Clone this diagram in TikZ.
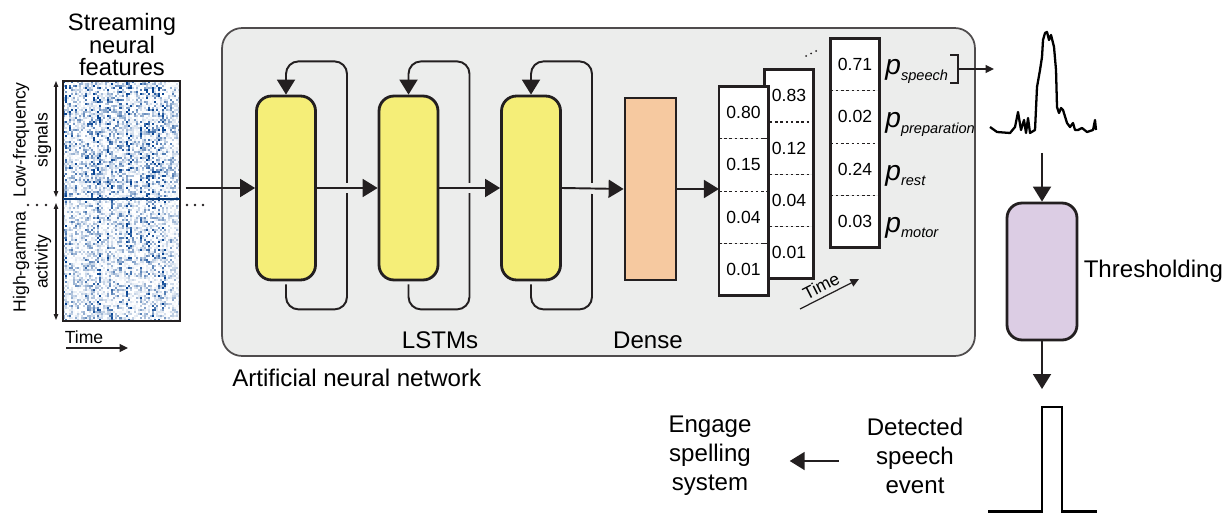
\documentclass[tikz,border=0pt]{standalone}
\usepackage{fontspec}
\setmainfont{Liberation Sans}
\usetikzlibrary{arrows.meta,positioning}

\definecolor{annbg}{HTML}{ECEDEC}
\definecolor{lstmyellow}{HTML}{F5EE78}
\definecolor{densepeach}{HTML}{F6C9A0}
\definecolor{threshpurple}{HTML}{DCCDE4}
\definecolor{heatblue}{HTML}{084594}
\definecolor{ink}{HTML}{231F20}

\newcommand\probl[1]{{\fontsize{16}{16}\selectfont\itshape p\raisebox{-3pt}{\fontsize{8.3}{9}\selectfont #1}}}

\tikzset{
  arr/.style={line width=1.1pt, draw=ink, -{Triangle[length=0.3cm,width=0.36cm]}},
  smallarr/.style={line width=0.8pt, draw=ink, -{Triangle[length=0.17cm,width=0.16cm]}},
  tinyarr/.style={line width=0.6pt, draw=ink, {Triangle[length=0.12cm,width=0.09cm]}-{Triangle[length=0.12cm,width=0.09cm]}},
  gap/.style={preaction={draw=annbg, line width=6pt, -, shorten <=4pt, shorten >=9pt}},
  loopline/.style={line width=1.1pt, draw=ink, rounded corners=0.25cm, -{Triangle[length=0.3cm,width=0.36cm]}},
  annbox/.style={draw=ink!80, line width=1pt, fill=annbg, rounded corners=0.4cm, minimum width=15.06cm, minimum height=6.56cm},
  lstm/.style={draw=ink, line width=1.6pt, fill=lstmyellow, rounded corners=0.3cm, minimum width=1.18cm, minimum height=3.68cm},
  densebox/.style={draw=ink, line width=1.6pt, fill=densepeach, minimum width=1.02cm, minimum height=3.64cm},
  threshbox/.style={draw=ink, line width=1.6pt, fill=threshpurple, rounded corners=0.3cm, minimum width=1.4cm, minimum height=2.74cm},
  cell/.style={fill=white, minimum width=0.97cm, minimum height=1.03cm, inner sep=0pt, font=\fontsize{10}{12}\selectfont},
  colframe/.style={draw=ink, line width=1.6pt},
  sep/.style={draw=ink, line width=0.6pt, dash pattern=on 1.5pt off 1.5pt},
  lbl/.style={font=\fontsize{13.7}{16.5}\selectfont, align=center},
  small/.style={font=\fontsize{10}{12.5}\selectfont, align=center},
  plbl/.style={anchor=base west, inner sep=0pt},
  sigline/.style={line width=1.3pt, draw=black, line join=round},
}

\begin{document}
\begin{tikzpicture}[x=0.02cm,y=-0.02cm]
\useasboundingbox (0,0) rectangle (1222,513);

% streaming features
\node[lbl, font=\fontsize{13.5}{12.8}\selectfont] (title) at (122,45) {Streaming\\neural\\features};
\pgfmathsetseed{11}
\foreach \i in {0,...,57}{
  \pgfmathsetmacro\colf{0.35+1.1*rnd^1.6}
  \foreach \j in {0,...,119}{
    \pgfmathtruncatemacro\v{min(100,120*\colf*(rnd^3)*(\j<59 ? 1.15 : 0.85))}
    \fill[heatblue!\v!white] (63+2.0172*\i,81+2*\j) rectangle ++(2.0172,2);
  }
}
\node[draw=ink, line width=0.8pt, minimum width=2.34cm, minimum height=4.8cm, inner sep=0pt] (heat) at (121.5,201) {};
\draw[heatblue!80!black, line width=0.6pt] (63,199) -- (180,199);
\coordinate (lf1) at (56,81);
\coordinate (lf2) at (56,197);
\coordinate (hg1) at (56,203);
\coordinate (hg2) at (56,320);
\draw[tinyarr] (lf1) -- (lf2);
\draw[tinyarr] (hg1) -- (hg2);
\node[small, rotate=90] (lowf) at (32,140) {Low-frequency\\signals};
\node[small, rotate=90] (higg) at (32,262) {High-gamma\\activity};
\foreach \x in {28,37,46,187,195,203}
  \fill[ink] (\x,205) circle [radius=1.3];
\node[small] (htime) at (84,337) {Time};
\coordinate (ht1) at (66,348);
\coordinate (ht2) at (128,348);
\draw[smallarr, line width=0.7pt] (ht1) -- (ht2);

% network
\node[annbox] (ann) at (598.5,192) {};
\node[lbl, anchor=west, inner sep=0pt] (annlbl) at (232,378) {Artificial neural network};
\node[lstm] (l1) at (286,188) {};
\node[lstm] (l2) at (408.5,188) {};
\node[lstm] (l3) at (531,188) {};
\node[densebox] (dense) at (650.5,189) {};
\node[lbl] (lstmlbl) at (440,340) {LSTMs};
\node[lbl] (denselbl) at (648,340) {Dense};

\foreach \n in {l1,l2,l3}
  \draw[loopline] ([yshift=-0.06cm]\n.south) -- ++(0,25) -| ++(61,-248) -| (\n.north);

\draw[arr] ([xshift=0.1cm]heat.east |- l1.west) -- (l1.west);
\draw[arr, gap] (l1.east) -- (l2.west);
\draw[arr, gap] (l2.east) -- (l3.west);
\draw[arr, gap] (l3.east) -- (dense.west);

% output columns
\node[cell] (b1) at (789,95.9) {0.83};
\node[cell, below=0pt of b1] (b2) {0.12};
\node[cell, below=0pt of b2] (b3) {0.04};
\node[cell, below=0pt of b3] (b4) {0.01};
\foreach \k in {1,2,3}
  \draw[sep] (b\k.south west) -- (b\k.south east);
\draw[colframe] (b1.north west) rectangle (b4.south east);

\node[cell] (a1) at (743.5,112.75) {0.80};
\node[cell, below=0pt of a1] (a2) {0.15};
\node[cell, below=0pt of a2] (a3) {0.04};
\node[cell, below=0pt of a3] (a4) {0.01};
\foreach \k in {1,2,3}
  \draw[sep] (a\k.south west) -- (a\k.south east);
\draw[colframe] (a1.north west) rectangle (a4.south east);

\node[cell] (c1) at (855,64.75) {0.71};
\node[cell, below=0pt of c1] (c2) {0.02};
\node[cell, below=0pt of c2] (c3) {0.24};
\node[cell, below=0pt of c3] (c4) {0.03};
\foreach \k in {1,2,3}
  \draw[sep] (c\k.south west) -- (c\k.south east);
\draw[colframe] (c1.north west) rectangle (c4.south east);

\draw[arr] (dense.east) -- (dense.east -| a1.west);
\foreach \x/\y in {806/56,811/53.5,816/51}
  \fill[ink] (\x,\y) circle [radius=1];

\node[plbl] (ps) at (885,75) {\probl{speech}};
\node[plbl] (pp) at (885,128) {\probl{preparation}};
\node[plbl] (pr) at (885,180) {\probl{rest}};
\node[plbl] (pm) at (885,232) {\probl{motor}};

\node[small, rotate=27, inner sep=0.5pt] (ctime) at (821,286) {Time};
\coordinate (ct1) at (800,309);
\coordinate (ct2) at (859,279);
\draw[smallarr, line width=0.7pt] (ct1) -- (ct2);

% speech probability trace
\draw[line width=0.9pt, draw=ink] (950,55) -- (958,55) -- (958,83) -- (950,83);
\coordinate (brk) at (958,69);
\coordinate (sigin) at (994,69);
\draw[smallarr] (brk) -- (sigin);
\draw[sigline] plot coordinates {(990,127) (997,132) (1010,133) (1015,127) (1018,112) (1021,130) (1024,120) (1026,133) (1028,118) (1030,133) (1035,130) (1037,87) (1040,70) (1042,57) (1043,40) (1045,33) (1047,32) (1049,40) (1051,35) (1053,43) (1054,47) (1056,70) (1057,107) (1059,113) (1061,108) (1063,110) (1067,123) (1070,127) (1073,123) (1075,130) (1078,130) (1082,128) (1087,132) (1093,130) (1095,120) (1096,130)};

% thresholding
\node[threshbox] (thr) at (1042,271.5) {};
\node[lbl, right=0.1cm of thr, inner sep=0pt] (thrlbl) {Thresholding};
\coordinate (sigout) at (1042,153);
\coordinate (pulsein) at (1042,389);
\draw[arr] (sigout) -- (thr.north);
\draw[arr] (thr.south) -- (pulsein);
\draw[line width=1.2pt, draw=black] (988,511.5) -- (1042,511.5) -- (1042,407) -- (1062,407) -- (1062,511.5) -- (1097,511.5);

% speech event
\node[lbl] (det) at (915,456) {Detected\\speech\\event};
\node[lbl] (eng) at (710,456) {Engage\\spelling\\system};
\draw[arr, shorten <=0.44cm, shorten >=0.64cm] ([yshift=-0.1cm]det.west) -- ([yshift=-0.1cm]eng.east);
\end{tikzpicture}
\end{document}
